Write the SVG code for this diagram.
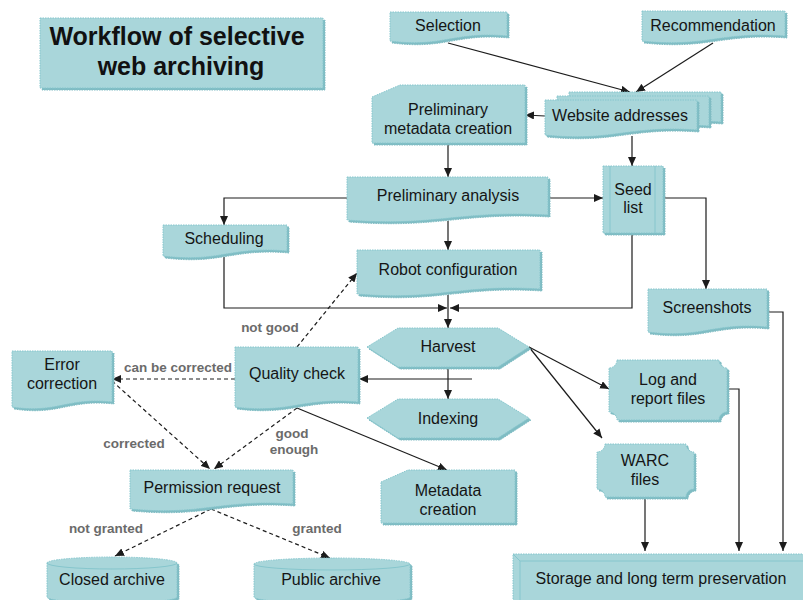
<svg xmlns="http://www.w3.org/2000/svg" width="803" height="600" viewBox="0 0 803 600">
<style>
.s{fill:#a9d6da;stroke:#86c6cd;stroke-width:1;stroke-dasharray:1.5 1;filter:url(#sh)}
.t{font-family:"Liberation Sans",Arial,sans-serif;font-size:16px;fill:#151515;text-anchor:middle}
.ttl{font-family:"Liberation Sans",Arial,sans-serif;font-size:25px;font-weight:bold;fill:#111;text-anchor:middle}
.lb{font-family:"Liberation Sans",Arial,sans-serif;font-size:13.5px;font-weight:bold;fill:#6b6b6b;text-anchor:middle}
.c{fill:none;stroke:#1c1c1c;stroke-width:1.2;marker-end:url(#ah)}
.n{fill:none;stroke:#1c1c1c;stroke-width:1.2}
.d{fill:none;stroke:#1c1c1c;stroke-width:1.2;stroke-dasharray:4 3;marker-end:url(#ah)}
.il{fill:none;stroke:#86c6cd;stroke-width:1}
</style>
<defs>
<marker id="ah" markerWidth="10" markerHeight="8" refX="9" refY="4" orient="auto" markerUnits="userSpaceOnUse">
<path d="M0,0 L9,4 L0,8 z" fill="#1c1c1c"/>
</marker>
<filter id="sh" x="-5%" y="-5%" width="115%" height="125%">
<feFlood flood-color="#7fbcc3" result="f"/>
<feComposite in="f" in2="SourceAlpha" operator="in" result="a"/>
<feOffset in="a" dx="2" dy="2" result="o"/>
<feMerge><feMergeNode in="o"/><feMergeNode in="SourceGraphic"/></feMerge>
</filter>
</defs>
<rect width="803" height="600" fill="#ffffff"/>

<g id="title">
<rect class="s" x="40" y="18" width="283" height="70"/>
<text class="ttl" x="177" y="45">Workflow of selective</text>
<text class="ttl" x="181" y="75">web archiving</text>
</g>

<g id="connectors">
<path class="c" d="M448,43 L630,92"/>
<path class="c" d="M713,43 L636,92"/>
<path class="c" d="M545,116 L525,115"/>
<path class="c" d="M448,143 V177"/>
<path class="c" d="M632,136 V166"/>
<path class="c" d="M548,198 H603"/>
<path class="c" d="M347,198 H224 V225"/>
<path class="c" d="M448,221 V250"/>
<path class="c" d="M224,257 V308 H447"/>
<path class="c" d="M632,233 V308 H450"/>
<path class="c" d="M448,295 V328"/>
<path class="c" d="M663,198 H706 V289"/>
<path class="c" d="M767,312 H783 V551"/>
<path class="c" d="M448,367 V399"/>
<path class="c" d="M472,379 H359"/>
<path class="c" d="M529,347 L609,389"/>
<path class="c" d="M529,347 L602,438"/>
<path class="c" d="M727,389 H739 V551"/>
<path class="c" d="M645,497 V551"/>
<path class="c" d="M297,408 L447,470"/>
<path class="d" d="M297,347 L357,273"/>
<path class="d" d="M235,379 H112"/>
<path class="d" d="M112,381 L210,469"/>
<path class="d" d="M297,408 L214,469"/>
<path class="d" d="M211,509 L115,556"/>
<path class="d" d="M211,509 L330,558"/>
<text class="lb" x="270" y="332">not good</text>
<text class="lb" x="178" y="372">can be corrected</text>
<text class="lb" x="134" y="448">corrected</text>
<text class="lb" x="292" y="438">good</text>
<text class="lb" x="294" y="454">enough</text>
<text class="lb" x="106" y="533">not granted</text>
<text class="lb" x="317" y="533">granted</text>
</g>

<g id="selection">
<path class="s" d="M390,12 H507 V36 C454,31 443,48 390,41 Z"/>
<text class="t" x="448" y="31">Selection</text>
</g>
<g id="recommendation">
<path class="s" d="M642,11 H785 V36 C721,31 706,48 642,41 Z"/>
<text class="t" x="713" y="31">Recommendation</text>
</g>
<g id="website-addresses">
<path class="s" d="M569,92 H721 V122 C653,117 637,134 569,127 Z"/>
<path class="s" d="M557,96 H709 V126 C641,121 625,138 557,131 Z"/>
<path class="s" d="M545,100 H697 V130 C629,125 613,142 545,135 Z"/>
<text class="t" x="620" y="121">Website addresses</text>
</g>
<g id="preliminary-metadata">
<path class="s" d="M372,97 L400,85 H525 V143 H372 Z"/>
<text class="t" x="448" y="115">Preliminary</text>
<text class="t" x="448" y="134">metadata creation</text>
</g>
<g id="preliminary-analysis">
<path class="s" d="M347,177 H548 V215 C458,210 437,227 347,220 Z"/>
<text class="t" x="448" y="201">Preliminary analysis</text>
</g>
<g id="seed-list">
<rect class="s" x="603" y="166" width="60" height="67"/>
<path class="il" d="M610,166 V233 M655,166 V233"/>
<text class="t" x="633" y="195">Seed</text>
<text class="t" x="633" y="213">list</text>
</g>
<g id="scheduling">
<path class="s" d="M163,225 H287 V251 C231,246 219,263 163,256 Z"/>
<text class="t" x="224" y="244">Scheduling</text>
</g>
<g id="robot-configuration">
<path class="s" d="M357,250 H540 V289 C458,284 439,301 357,294 Z"/>
<text class="t" x="448" y="275">Robot configuration</text>
</g>
<g id="screenshots">
<path class="s" d="M648,289 H767 V327 C713,322 702,339 648,332 Z"/>
<text class="t" x="707" y="313">Screenshots</text>
</g>
<g id="harvest">
<path class="s" d="M367,347 L398,328 H498 L529,347 L498,367 H398 Z"/>
<text class="t" x="448" y="352">Harvest</text>
</g>
<g id="indexing">
<path class="s" d="M367,418 L398,399 H498 L529,418 L498,438 H398 Z"/>
<text class="t" x="448" y="424">Indexing</text>
</g>
<g id="quality-check">
<path class="s" d="M235,347 H358 V402 C303,397 290,414 235,407 Z"/>
<text class="t" x="297" y="379">Quality check</text>
</g>
<g id="error-correction">
<path class="s" d="M12,351 H112 V402 C67,397 57,414 12,407 Z"/>
<text class="t" x="62" y="370">Error</text>
<text class="t" x="62" y="389">correction</text>
</g>
<g id="log-report">
<path class="s" d="M617,360 H719 A8,8 0 0 0 727,368 V412 A8,8 0 0 0 719,420 H617 A8,8 0 0 0 609,412 V368 A8,8 0 0 0 617,360 Z"/>
<text class="t" x="668" y="385">Log and</text>
<text class="t" x="668" y="404">report files</text>
</g>
<g id="warc-files">
<path class="s" d="M605,444 H686 A8,8 0 0 0 694,452 V489 A8,8 0 0 0 686,497 H605 A8,8 0 0 0 597,489 V452 A8,8 0 0 0 605,444 Z"/>
<text class="t" x="645" y="466">WARC</text>
<text class="t" x="645" y="485">files</text>
</g>
<g id="metadata-creation">
<path class="s" d="M381,482 L408,470 H515 V523 H381 Z"/>
<text class="t" x="448" y="496">Metadata</text>
<text class="t" x="448" y="515">creation</text>
</g>
<g id="permission-request">
<path class="s" d="M130,470 H293 V504 C220,499 203,516 130,509 Z"/>
<text class="t" x="212" y="493">Permission request</text>
</g>
<g id="closed-archive">
<path class="s" d="M47,563 A65,6 0 0 1 177,563 V597 A65,6 0 0 1 47,597 Z"/>
<path class="il" d="M47,563 A65,6 0 0 0 177,563"/>
<text class="t" x="112" y="585">Closed archive</text>
</g>
<g id="public-archive">
<path class="s" d="M254,564 A78,6 0 0 1 410,564 V597 A78,6 0 0 1 254,597 Z"/>
<path class="il" d="M254,564 A78,6 0 0 0 410,564"/>
<text class="t" x="331" y="585">Public archive</text>
</g>
<g id="storage">
<rect class="s" x="513" y="554" width="295" height="50"/>
<path class="il" d="M513,554 L520,561 V600 M520,561 H803"/>
<text class="t" x="661" y="584">Storage and long term preservation</text>
</g>
</svg>
